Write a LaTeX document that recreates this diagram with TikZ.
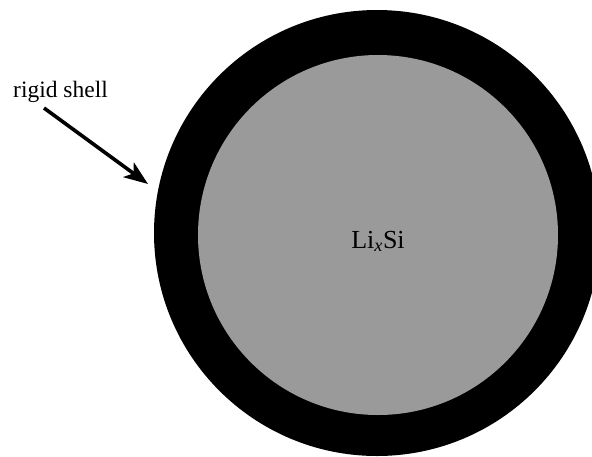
\documentclass[tikz,border=0pt]{standalone}
\usepackage{fontspec}
\setmainfont{Liberation Serif}
\usetikzlibrary{arrows.meta}
\definecolor{coregray}{RGB}{154,154,154}
\tikzset{
  shell/.style={circle, fill=black, minimum size=446pt, inner sep=0pt},
  core/.style={circle, fill=coregray, minimum size=360pt, inner sep=0pt},
  label/.style={font=\fontsize{23.5}{25}\selectfont, inner sep=0pt},
  pointer/.style={line width=3.6pt, -{Stealth[length=24pt,width=18pt,inset=6pt]}}
}
\begin{document}
\begin{tikzpicture}[x=1pt,y=-1pt]
  \useasboundingbox (0,0) rectangle (592,456);
  % particle: rigid shell around the lithiated core
  \node[shell] (outer) at (377,233) {};
  \node[core] (inner) at (378,235) {};
  \node[font=\fontsize{26}{28}\selectfont, inner sep=0pt, anchor=base] (comp) at (378,248) {Li\textsubscript{\itshape x}Si};
  % annotation
  \node[label, anchor=base west] (lbl) at (13,97) {rigid shell};
  \coordinate (tip) at (148,184);
  \draw[pointer] (44,108) -- (tip);
\end{tikzpicture}
\end{document}
